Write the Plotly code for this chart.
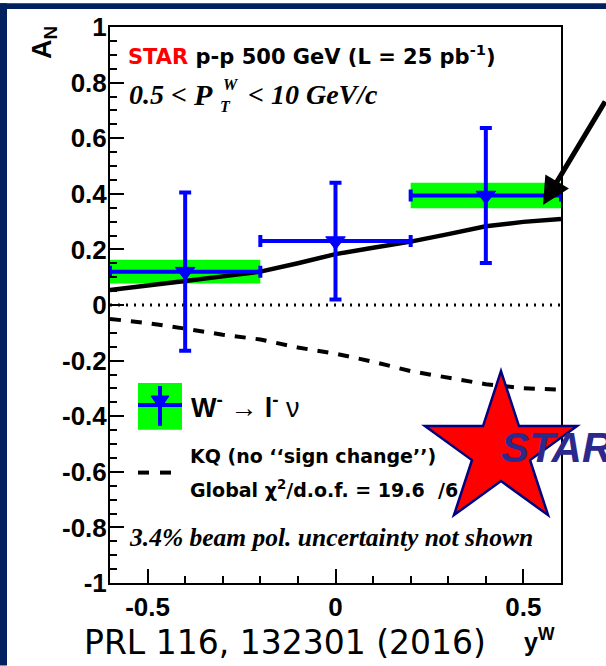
import math
import plotly.graph_objects as go

# ---------------- data ----------------
y_w = [-0.4, 0.0, 0.4]
a_n = [0.12, 0.23, 0.394]
stat_err = [0.285, 0.21, 0.243]
bin_half = [0.2, 0.2, 0.2]
sys_err = [0.043, 0.006, 0.046]

curve_y = [-0.6, -0.5, -0.4, -0.3, -0.2, -0.1, 0.0, 0.1, 0.2, 0.3, 0.4, 0.5, 0.6]
kq_sign_change = [0.054, 0.068, 0.086, 0.103, 0.12, 0.150, 0.183, 0.206, 0.228, 0.255, 0.283, 0.299, 0.309]
kq_no_sign_change = [-0.05, -0.065, -0.085, -0.107, -0.124, -0.153, -0.175, -0.204, -0.238, -0.263, -0.285, -0.299, -0.305]
zero_x = [-0.6, 0.6]
zero_y = [0.0, 0.0]

x_tickvals = [-0.5, 0.0, 0.5]
x_ticktext = ["-0.5", "0", "0.5"]
y_tickvals = [1, 0.8, 0.6, 0.4, 0.2, 0, -0.2, -0.4, -0.6, -0.8, -1]
y_ticktext = ["1", "0.8", "0.6", "0.4", "0.2", "0", "-0.2", "-0.4", "-0.6", "-0.8", "-1"]

# ---------------- layout constants ----------------
W, H = 606, 666
ML, MR, MT, MB = 110, 45, 24, 83
PW, PH = W - ML - MR, H - MT - MB
NAVY = "#002060"
GREEN = "#00ff00"
BLUE = "#0000ff"
ARIAL = "Liberation Sans"
WIDE = "DejaVu Sans"
TIMES = "Liberation Serif"


def px(xp, yp):
    return ((xp - ML) / PW, (H - MB - yp) / PH)


fig = go.Figure()

# systematic boxes
fig.add_trace(go.Bar(
    x=y_w, y=[2 * s for s in sys_err], base=[a - s for a, s in zip(a_n, sys_err)],
    width=[2 * b for b in bin_half], marker=dict(color=GREEN, line=dict(width=0)),
    showlegend=False, hoverinfo="skip"))

# zero line
fig.add_trace(go.Scatter(x=zero_x, y=zero_y, mode="lines",
                         line=dict(color="black", width=3, dash="2px,6px"),
                         showlegend=False))
# KQ no sign change (dashed)
fig.add_trace(go.Scatter(x=curve_y, y=kq_no_sign_change, mode="lines",
                         line=dict(color="black", width=4, dash="11px,10px"),
                         showlegend=False))
# KQ solid
fig.add_trace(go.Scatter(x=curve_y, y=kq_sign_change, mode="lines",
                         line=dict(color="black", width=4.5),
                         showlegend=False))
# data points
fig.add_trace(go.Scatter(
    x=y_w, y=a_n, mode="markers",
    marker=dict(symbol="triangle-down", size=17, color=BLUE, line=dict(color=BLUE, width=1)),
    error_y=dict(type="data", array=stat_err, color=BLUE, thickness=4, width=6),
    error_x=dict(type="data", array=bin_half, color=BLUE, thickness=4, width=6),
    showlegend=False))

shapes = []
# navy border strips
shapes.append(dict(type="rect", xref="paper", yref="paper",
                   x0=px(0, 0)[0], y0=px(0, 0)[1], x1=px(7, H)[0], y1=px(7, H)[1],
                   fillcolor=NAVY, line=dict(width=0), layer="above"))
shapes.append(dict(type="rect", xref="paper", yref="paper",
                   x0=px(0, 0)[0], y0=px(0, 0)[1], x1=px(W, 6)[0], y1=px(W, 6)[1],
                   fillcolor=NAVY, line=dict(width=0), layer="above"))

# legend: green box with blue marker
lx0, ly0 = px(138, 382)
lx1, ly1 = px(182, 429)
shapes.append(dict(type="rect", xref="paper", yref="paper", x0=lx0, y0=ly0, x1=lx1, y1=ly1,
                   fillcolor=GREEN, line=dict(width=0), layer="above"))
a = px(160, 385); b = px(160, 425)
shapes.append(dict(type="line", xref="paper", yref="paper", x0=a[0], y0=a[1], x1=b[0], y1=b[1],
                   line=dict(color=BLUE, width=4), layer="above"))
a = px(138, 404); b = px(182, 404)
shapes.append(dict(type="line", xref="paper", yref="paper", x0=a[0], y0=a[1], x1=b[0], y1=b[1],
                   line=dict(color=BLUE, width=4), layer="above"))
tri = [px(151, 395), px(169, 395), px(160, 408)]
shapes.append(dict(type="path", xref="paper", yref="paper",
                   path="M{},{} L{},{} L{},{} Z".format(tri[0][0], tri[0][1], tri[1][0], tri[1][1], tri[2][0], tri[2][1]),
                   fillcolor=BLUE, line=dict(color=BLUE, width=1), layer="above"))
# legend dashed sample
for xa, xb in [(138, 149), (160, 171)]:
    a = px(xa, 472); b = px(xb, 472)
    shapes.append(dict(type="line", xref="paper", yref="paper", x0=a[0], y0=a[1], x1=b[0], y1=b[1],
                       line=dict(color="black", width=4), layer="above"))

# STAR logo star
cx, cy, R = 501, 450, 80
r_in = R * 0.382
pts = []
for k in range(10):
    ang = math.radians(k * 36)
    rr = R if k % 2 == 0 else r_in
    pts.append(px(cx + rr * math.sin(ang), cy - rr * math.cos(ang)))
path = "M" + " L".join("{:.5f},{:.5f}".format(p[0], p[1]) for p in pts) + " Z"
shapes.append(dict(type="path", xref="paper", yref="paper", path=path,
                   fillcolor="#ff0000", line=dict(color="#000080", width=2.5), layer="above"))

annotations = []


def ann(text, xp, yp, size, family=ARIAL, color="black", xanchor="left", yanchor="middle",
        weight="normal", style="normal", angle=0):
    x, y = px(xp, yp)
    annotations.append(dict(text=text, x=x, y=y, xref="paper", yref="paper", showarrow=False,
                            xanchor=xanchor, yanchor=yanchor, textangle=angle,
                            font=dict(family=family, size=size, color=color, weight=weight, style=style)))


# header texts
ann("<span style='color:#ff0000'>STAR</span> p-p 500 GeV (L = 25 pb<sup>-1</sup>)", 126, 52, 21,
    family=WIDE, weight="bold")
ann("0.5", 127, 92, 28, family=TIMES, weight="bold", style="italic")
ann("&lt;", 169, 92, 28, family=TIMES, weight="bold", style="italic")
ann("P", 191, 92, 30, family=TIMES, weight="bold", style="italic")
ann("W", 221, 92, 16, family=TIMES, weight="bold", style="italic", yanchor="bottom")
ann("T", 218, 93, 16, family=TIMES, weight="bold", style="italic", yanchor="top")
ann("&lt; 10 GeV/c", 246, 92, 28, family=TIMES, weight="bold", style="italic")

# legend texts
ann("<b>W<sup>-</sup></b> → <b>l<sup>-</sup></b> ν", 189, 405, 27)
ann("KQ (no ‘‘sign change’’)", 188, 455, 19, family=WIDE, weight="bold")
ann("Global χ<sup>2</sup>/d.o.f. = 19.6  /6", 188, 488, 19, family=WIDE, weight="bold")
ann("3.4% beam pol. uncertainty not shown", 127, 537, 25.5, family=TIMES, weight="bold", style="italic")

# axis titles
ann("A<sub>N</sub>", 44, 40, 27, weight="bold", xanchor="center", angle=-90)
ann("y<sup>W</sup>", 522, 640, 25, weight="bold")

# citation
ann("PRL 116, 132301 (2016)", 285, 643, 33, family="DejaVu Sans", xanchor="center")

# STAR logo text
ann("STAR", 499, 447, 42, color="#2b2a8c", weight="bold", style="italic")

# arrow
tip = px(543, 203)
annotations.append(dict(text="", x=tip[0], y=tip[1], xref="paper", yref="paper",
                        showarrow=True, ax=78, ay=-105, axref="pixel", ayref="pixel",
                        arrowhead=2, arrowsize=1.1, arrowwidth=5, arrowcolor="black"))

axis_common = dict(showline=True, linecolor="black", linewidth=2, mirror=True,
                   ticks="inside", tickcolor="black", tickwidth=2, ticklen=14,
                   showgrid=False, zeroline=False,
                   tickfont=dict(family=ARIAL, size=26, color="black", weight="bold"))

fig.update_layout(
    width=W, height=H,
    margin=dict(l=ML, r=MR, t=MT, b=MB, pad=0),
    paper_bgcolor="white", plot_bgcolor="white",
    showlegend=False, barmode="overlay",
    xaxis=dict(range=[-0.6, 0.6], tickmode="array", tickvals=x_tickvals, ticktext=x_ticktext,
               minor=dict(dtick=0.1, ticklen=7, tickwidth=2, tickcolor="black", ticks="inside"),
               ticklabelstandoff=0, **axis_common),
    yaxis=dict(range=[-1, 1], tickmode="array", tickvals=y_tickvals, ticktext=y_ticktext,
               minor=dict(dtick=0.05, ticklen=7, tickwidth=2, tickcolor="black", ticks="inside"),
               ticklabelstandoff=-4, **axis_common),
    shapes=shapes, annotations=annotations,
)

fig.write_html("out.html")
